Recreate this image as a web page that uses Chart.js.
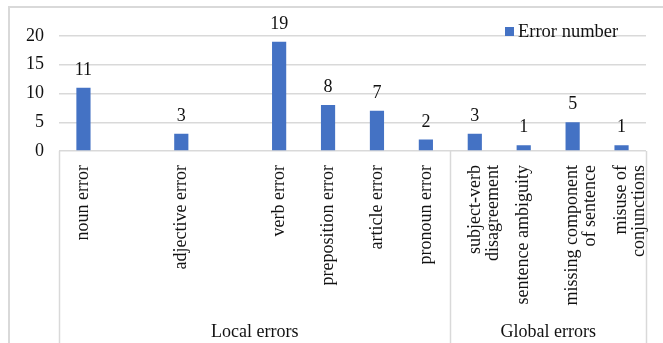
<!DOCTYPE html>
<html>
<head>
<meta charset="utf-8">
<script src="https://cdn.jsdelivr.net/npm/chart.js@4/dist/chart.umd.min.js"></script>
<style>
  html, body { margin: 0; padding: 0; background: #fff; }
  #c { display: block; }
</style>
</head>
<body>
<canvas id="c" width="663" height="343"></canvas>
<script>
// Error categories along the x axis (blank slots leave gaps between bars)
const categories = [
  'noun error', '', 'adjective error', '', 'verb error',
  'preposition error', 'article error', 'pronoun error',
  ['subject-verb', 'disagreement'], 'sentence ambiguity',
  ['missing component', 'of sentence'], ['misuse of', 'conjunctions']
];
// Number of errors per category
const errorNumbers = [11, null, 3, null, 19, 8, 7, 2, 3, 1, 5, 1];
// Category groups shown beneath the tick labels
const groupNames = ['Local errors', 'Global errors'];
const groupStarts = [0, 8];
// Value axis ticks
const yTicks = [0, 5, 10, 15, 20];

const FONT = '"Liberation Serif", "Times New Roman", serif';
const TEXT = '#111111';
const LINE = '#d9d9d9';
const BAR = '#4472C4';

const decorations = {
  id: 'decorations',
  beforeDraw(chart) {
    const { ctx, chartArea: a, scales: { x } } = chart;
    ctx.save();
    ctx.strokeStyle = LINE;
    ctx.lineWidth = 2;
    // outer frame
    ctx.strokeRect(9, 7, 720, 400);
    // boxes around the category groups
    const bounds = [a.left];
    for (let g = 1; g < groupStarts.length; g++) {
      const i = groupStarts[g];
      bounds.push((x.getPixelForValue(i - 1) + x.getPixelForValue(i)) / 2);
    }
    bounds.push(a.right);
    ctx.lineWidth = 1.5;
    ctx.beginPath();
    bounds.forEach(px => {
      ctx.moveTo(Math.round(px) + 0.5, a.bottom);
      ctx.lineTo(Math.round(px) + 0.5, chart.height);
    });
    ctx.stroke();
    ctx.fillStyle = TEXT;
    ctx.font = '18px ' + FONT;
    ctx.textAlign = 'center';
    ctx.textBaseline = 'alphabetic';
    groupNames.forEach((name, g) => {
      ctx.fillText(name, (bounds[g] + bounds[g + 1]) / 2, 337);
    });
    ctx.restore();
  },
  afterDatasetsDraw(chart) {
    const { ctx } = chart;
    const ds = chart.data.datasets[0];
    ctx.save();
    ctx.fillStyle = TEXT;
    ctx.font = '18px ' + FONT;
    ctx.textAlign = 'center';
    ctx.textBaseline = 'alphabetic';
    chart.getDatasetMeta(0).data.forEach((bar, i) => {
      const v = ds.data[i];
      if (v === null || v === undefined) return;
      ctx.fillText(String(v), bar.x, bar.y - 13);
    });
    // legend entry
    ctx.fillStyle = ds.backgroundColor;
    ctx.fillRect(505, 27, 9, 9);
    ctx.fillStyle = TEXT;
    ctx.textAlign = 'left';
    ctx.font = '18.5px ' + FONT;
    ctx.fillText(ds.label, 518, 37);
    ctx.restore();
  }
};

new Chart(document.getElementById('c'), {
  type: 'bar',
  data: {
    labels: categories,
    datasets: [{
      label: 'Error number',
      data: errorNumbers,
      backgroundColor: BAR,
      barPercentage: 0.29,
      categoryPercentage: 1
    }]
  },
  options: {
    responsive: false,
    animation: false,
    layout: { padding: { top: 36, right: 17, left: 0, bottom: 0 } },
    plugins: { legend: { display: false }, tooltip: { enabled: false } },
    scales: {
      x: {
        grid: { display: false, drawTicks: false },
        border: { display: false },
        ticks: {
          autoSkip: false,
          minRotation: 90,
          maxRotation: 90,
          padding: 14,
          color: TEXT,
          font: { family: FONT, size: 18, lineHeight: 1 }
        },
        afterFit(s) {
          s.height = 192;
          s.paddingLeft = 0;
          s.paddingRight = 0;
        }
      },
      y: {
        min: 0,
        max: 20,
        afterBuildTicks(s) { s.ticks = yTicks.map(v => ({ value: v })); },
        grid: { color: LINE, lineWidth: 1.5, drawTicks: false },
        border: { display: false },
        ticks: {
          padding: 15,
          color: TEXT,
          font: { family: FONT, size: 18 }
        },
        afterFit(s) {
          s.width = 59;
          s.paddingTop = 0;
          s.paddingBottom = 0;
        }
      }
    }
  },
  plugins: [decorations]
});
</script>
</body>
</html>
